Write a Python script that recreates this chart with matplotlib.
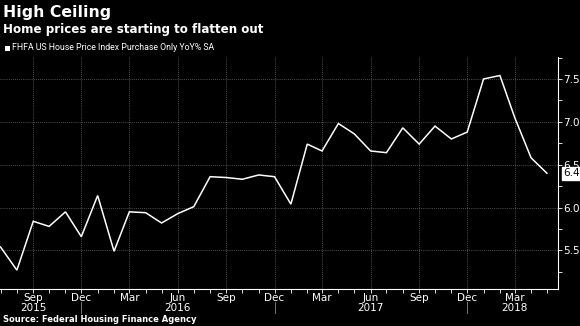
import pandas as pd
import matplotlib
matplotlib.use("Agg")
import matplotlib.pyplot as plt
import matplotlib.dates as mdates
import matplotlib.transforms as mtransforms
from matplotlib.patches import Rectangle

# data (FHFA HPI purchase only, YoY %, SA)
months = pd.date_range("2015-07-01", periods=35, freq="MS")
yoy = [5.54, 5.27, 5.84, 5.78, 5.95, 5.66, 6.14, 5.49, 5.95, 5.94, 5.82, 5.93,
       6.01, 6.36, 6.35, 6.33, 6.38, 6.36, 6.04, 6.74, 6.66, 6.98, 6.86, 6.66,
       6.64, 6.93, 6.74, 6.95, 6.80, 6.88, 7.50, 7.54, 7.05, 6.58, 6.40]
year_labels = ["2015", "2016", "2017", "2018"]
year_label_dates = pd.to_datetime(["2015-09-01", "2016-06-01", "2017-06-01", "2018-03-01"])
year_breaks = pd.to_datetime(["2015-12-01", "2016-12-01", "2017-12-01"])

title = "High Ceiling"
subtitle = "Home prices are starting to flatten out"
series_name = "FHFA US House Price Index Purchase Only YoY% SA"
source = "Source: Federal Housing Finance Agency"

W, H = 580, 326
fig = plt.figure(figsize=(W / 100, H / 100), dpi=100, facecolor="black")
ax = fig.add_axes([0, 1 - 289 / H, 558 / W, (289 - 57) / H], facecolor="black")

ax.plot(months, yoy, color="white", lw=1.1, solid_joinstyle="miter")

ax.set_xlim(months[0] - pd.Timedelta(days=1), months[-1] + pd.Timedelta(days=21))
ax.set_ylim(5.05, 7.756)

# axes styling
for s in ["top", "left"]:
    ax.spines[s].set_visible(False)
for s in ["bottom", "right"]:
    ax.spines[s].set_color("white")
    ax.spines[s].set_linewidth(0.8)

ax.yaxis.tick_right()
ax.set_yticks([5.5, 6.0, 6.5, 7.0, 7.5])
ax.set_yticks([5.25, 5.75, 6.25, 6.75, 7.25, 7.75], minor=True)
ax.yaxis.set_major_formatter(plt.FuncFormatter(lambda v, p: f"{v:.1f}"))
ax.tick_params(axis="y", which="both", colors="white", labelsize=7.5, length=3,
               width=0.6, pad=1, direction="out")

ax.xaxis.set_major_locator(mdates.MonthLocator(bymonth=[3, 6, 9, 12]))
ax.xaxis.set_major_formatter(mdates.DateFormatter("%b"))
ax.xaxis.set_minor_locator(mdates.MonthLocator())
ax.tick_params(axis="x", which="both", colors="white", labelsize=7.5, length=3,
               width=0.6, pad=0, direction="out")

ax.grid(True, which="major", color="#6a6a6a", linestyle=(0, (1, 1.5)), linewidth=0.6)

# year labels and separators below month labels
trans = mtransforms.blended_transform_factory(ax.transData, ax.transAxes)
for lab, d in zip(year_labels, year_label_dates):
    ax.text(d, -0.062, lab, transform=trans, ha="center", va="top",
            color="white", fontsize=7.5)
for d in year_breaks:
    ax.plot([d, d], [-0.056, -0.103], transform=trans, color="#8a8a8a",
            lw=0.6, clip_on=False)

# last value tag
ax.annotate(f"{yoy[-1]:.1f}", xy=(1.0, yoy[-1]), xycoords=("axes fraction", "data"),
            xytext=(4, 0), textcoords="offset points", ha="left", va="center",
            fontsize=7.5, color="black", zorder=10,
            bbox=dict(boxstyle="square,pad=0.12", fc="white", ec="white"))

# titles / legend / source
fig.text(3 / W, 1 - 12 / H, title, color="white", fontsize=11.3, weight="bold", va="center")
fig.text(3 / W, 1 - 29 / H, subtitle, color="white", fontsize=8.6, weight="bold", va="center")
fig.patches.append(Rectangle((5 / W, 1 - 51 / H), 5 / W, 5 / H, transform=fig.transFigure,
                             facecolor="white", edgecolor="none"))
fig.text(12 / W, 1 - 48 / H, series_name, color="white", va="center",
         family="Roboto", fontsize=6.3)
fig.text(3 / W, 1 - 320 / H, source, color="white", fontsize=6.0, weight="bold", va="center")

fig.savefig("out.png", dpi=100, facecolor="black")
